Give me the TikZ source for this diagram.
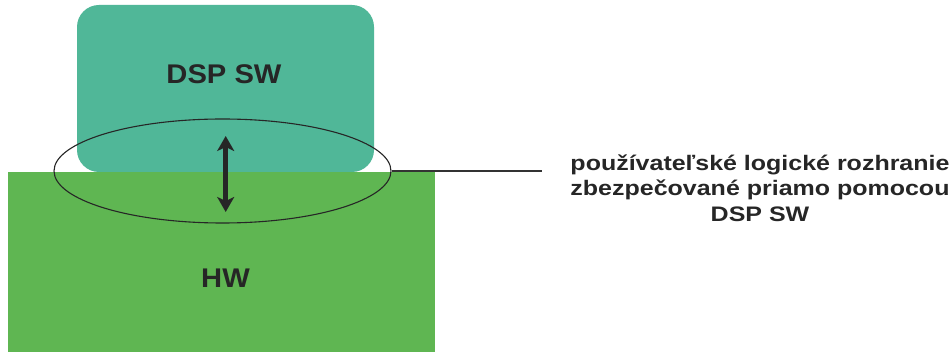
\documentclass[tikz,border=0pt]{standalone}
\usepackage{fontspec}
\setmainfont{Liberation Sans}
\newfontfamily\labelfont[FakeStretch=1.08]{Liberation Sans}
\newfontfamily\notefont[FakeStretch=1.19]{Liberation Sans}
\usetikzlibrary{arrows.meta,shapes.geometric}
\definecolor{swteal}{RGB}{80,183,152}
\definecolor{hwgreen}{RGB}{95,182,82}
\tikzset{
  x=1pt, y=-1pt,
  layer/.style={font=\labelfont\bfseries\fontsize{27}{32}\selectfont, text=black!85},
  note/.style={font=\notefont\bfseries\fontsize{21}{25.5}\selectfont, align=center, text=black!85},
  leader/.style={line width=1.1pt, black!80},
  flow/.style={line width=5.5pt, black!85, {Stealth[length=15pt,width=17pt,inset=4pt]}-{Stealth[length=15pt,width=17pt,inset=4pt]}}
}
\begin{document}
\begin{tikzpicture}
  \useasboundingbox[fill=white] (0,0) rectangle (951,352);
  % hardware block and DSP software block
  \fill[hwgreen] (8,172) rectangle (435,352);
  \fill[swteal, rounded corners=22pt] (77,5) rectangle (374,172);
  \node[layer] (sw) at (224,74) {DSP SW};
  \node[layer] (hw) at (225.5,278.5) {HW};
  % interface ellipse with bidirectional arrow
  \node[draw=black!85, line width=1.1pt, ellipse, minimum width=337pt, minimum height=104pt, inner sep=0pt] (iface) at (222.5,171) {};
  \coordinate (up) at (225.7,136);
  \coordinate (down) at (225.7,212);
  \draw[flow] (up) -- (down);
  % annotation
  \node[note] (lbl) at (760,188) {používateľské logické rozhranie\\zbezpečované priamo pomocou\\DSP SW};
  \coordinate (lend) at (542,171);
  \draw[leader] (iface.east) -- (lend);
\end{tikzpicture}
\end{document}
